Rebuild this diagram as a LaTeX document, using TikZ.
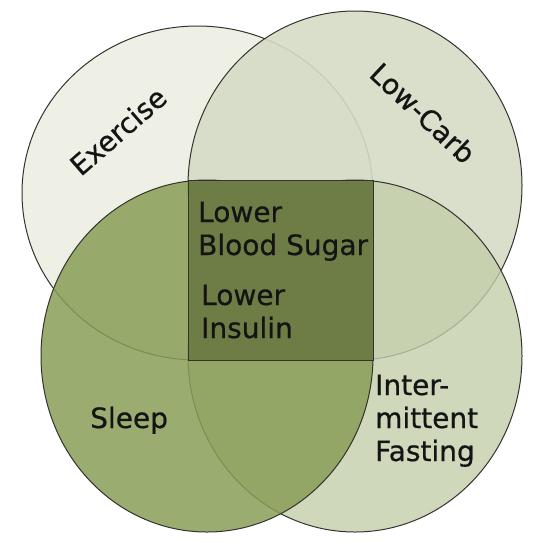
\documentclass[tikz,border=0pt]{standalone}
\usepackage{fontspec}
\setmainfont{DejaVu Sans}
\newfontfamily\labelfont[FakeBold=0.6]{DejaVu Sans}
\usepackage{tikz}
\usepackage{xcolor}

\definecolor{setline}{HTML}{33332F}
\definecolor{exercisefill}{HTML}{EEF0E5}
\definecolor{lowcarbfill}{HTML}{D5DBC5}
\definecolor{fastingfill}{HTML}{C3CEAA}
\definecolor{sleepfill}{HTML}{889E57}
\definecolor{centrefill}{HTML}{6D7D45}

\begin{document}
\begin{tikzpicture}[x=1pt, y=-1pt,
    set/.style={line width=1pt, draw=setline},
    label/.style={inner sep=0pt, text=black!92, font=\labelfont\fontsize{28}{33}\selectfont, align=left}]

  \useasboundingbox (0,0) rectangle (556,542);

  % Sets
  \draw[set, fill=exercisefill] (197.5,193) ellipse [x radius=175.5, y radius=167];
  \draw[set, fill=lowcarbfill, fill opacity=0.9] (355,185.5) ellipse [x radius=167, y radius=174.5];
  \draw[set, fill=fastingfill, fill opacity=0.8] (355,356) ellipse [x radius=167, y radius=176];
  \draw[set, fill=sleepfill, fill opacity=0.85] (207,356) ellipse [x radius=166, y radius=176];

  % Centre
  \draw[set, fill=centrefill] (188,180) rectangle (373,360);

  % Labels
  \node[label, rotate=41] (exercise) at (118,131) {Exercise};
  \node[label, rotate=-43] (lowcarb) at (423,113) {Low-Carb};
  \node[label, anchor=base west] (sleep) at (90,428) {Sleep};
  \node[label, anchor=base west] (fasting) at (375,461) {Inter-\\mittent\\Fasting};
  \node[label, anchor=base west] (sugar) at (198,255) {Lower\\Blood Sugar};
  \node[label, anchor=base west] (insulin) at (201,338) {Lower\\Insulin};

\end{tikzpicture}
\end{document}
